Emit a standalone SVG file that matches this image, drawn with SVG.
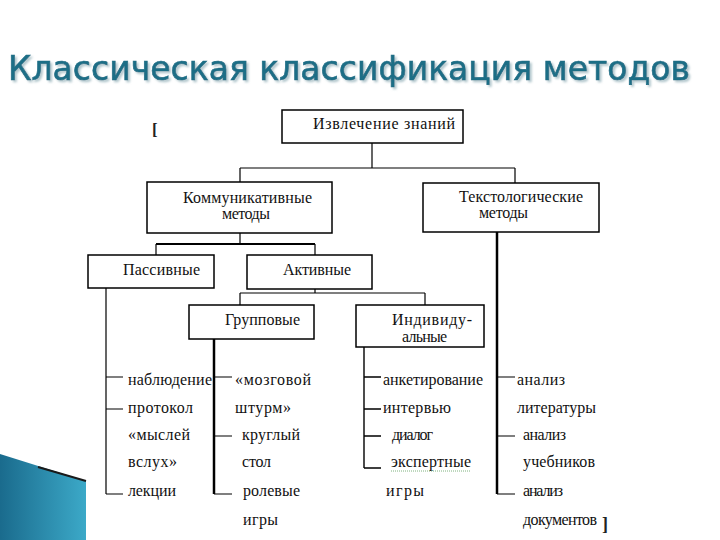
<svg xmlns="http://www.w3.org/2000/svg" width="720" height="540" viewBox="0 0 720 540">
<defs>
<linearGradient id="deco" x1="0" y1="0" x2="1" y2="0">
<stop offset="0" stop-color="#1a6b8d"/>
<stop offset="1" stop-color="#3ca9c8"/>
</linearGradient>
<filter id="shadow" x="-5%" y="-30%" width="110%" height="160%">
<feDropShadow dx="2" dy="2" stdDeviation="0.8" flood-color="#9fb8c0" flood-opacity="0.8"/>
</filter>
<style>
.box{fill:#fff;stroke:#000;stroke-width:1.5}
.ln{stroke:#000;stroke-width:1.2;fill:none}
.t{font-family:"Liberation Serif","Times New Roman",serif;font-size:16px;fill:#111}
.title{font-family:"DejaVu Sans","Liberation Sans",sans-serif;font-size:34px}
.br{font-family:"Liberation Serif",serif;font-weight:bold;fill:#222}
</style>
</defs>
<rect width="720" height="540" fill="#fff"/>

<!-- title -->
<g id="title">
<text class="title" x="8" y="80" textLength="682" lengthAdjust="spacingAndGlyphs" fill="#1f6e86" stroke="#1f6e86" stroke-width="0.7" filter="url(#shadow)">Классическая классификация методов</text>
</g>

<!-- decoration -->
<g id="deco">
<polygon points="0,454 86,481 86,540 0,540" fill="url(#deco)"/>
<line x1="38" y1="467" x2="86" y2="481" stroke="#1a1a1a" stroke-width="2"/>
</g>

<!-- brackets -->
<text class="br" x="152" y="135" font-size="17">[</text>
<text class="br" x="602" y="530" font-size="18">]</text>

<!-- connectors -->
<g id="connectors">
<path class="ln" d="M372,143 V168 M240,168 H515 M240,168 V182 M515,168 V183"/>
<path class="ln" d="M240,233 V244 M156,255 V244 M315,244 V255"/>
<path class="ln" d="M156,244 H315" style="stroke-width:2"/>
<path class="ln" d="M315,289 V293 M240,293 H425 M240,293 V305 M425,293 V305"/>
<!-- passive list -->
<path class="ln" d="M106,288 V494 M106,377 H123 M106,409 H123 M106,494 H123"/>
<!-- group list -->
<path class="ln" d="M214,339 V494" style="stroke-width:2.5"/>
<path class="ln" d="M214,377 H232 M214,436 H232 M214,494 H232"/>
<!-- individual list -->
<path class="ln" d="M364,347 V468 M364,377 H381 M364,409 H381 M364,436 H381 M364,468 H381" style="stroke-width:1.4"/>
<!-- textological list -->
<path class="ln" d="M497,232 V494" style="stroke-width:2.5"/>
<path class="ln" d="M497,377 H515 M497,436 H515 M497,494 H515"/>
</g>

<g id="n-top">
<rect class="box" x="282" y="110" width="181" height="33"/>
<text class="t" x="313" y="129" textLength="142" lengthAdjust="spacing">Извлечение знаний</text>
</g>
<g id="n-comm">
<rect class="box" x="147" y="182" width="185" height="51"/>
<text class="t" x="183" y="203" textLength="129" lengthAdjust="spacing">Коммуникативные</text>
<text class="t" x="222" y="219" textLength="48" lengthAdjust="spacing">методы</text>
</g>
<g id="n-text">
<rect class="box" x="423" y="183" width="176" height="49"/>
<text class="t" x="459" y="202" textLength="124" lengthAdjust="spacing">Текстологические</text>
<text class="t" x="479" y="218" textLength="49" lengthAdjust="spacing">методы</text>
</g>
<g id="n-pass">
<rect class="box" x="88" y="255" width="126" height="33"/>
<text class="t" x="123" y="275" textLength="77" lengthAdjust="spacing">Пассивные</text>
</g>
<g id="n-act">
<rect class="box" x="247" y="255" width="125" height="34"/>
<text class="t" x="283" y="275" textLength="68" lengthAdjust="spacing">Активные</text>
</g>
<g id="n-group">
<rect class="box" x="189" y="305" width="125" height="34"/>
<text class="t" x="225" y="325" textLength="75" lengthAdjust="spacing">Групповые</text>
</g>
<g id="n-ind">
<rect class="box" x="356" y="305" width="128" height="42"/>
<text class="t" x="392" y="325" textLength="80" lengthAdjust="spacing">Индивиду-</text>
<text class="t" x="402" y="342" textLength="45" lengthAdjust="spacing">альные</text>
</g>

<g id="list-pass">
<text class="t" x="128" y="385" textLength="84" lengthAdjust="spacing">наблюдение</text>
<text class="t" x="128" y="413" textLength="65" lengthAdjust="spacing">протокол</text>
<text class="t" x="128" y="440" textLength="62" lengthAdjust="spacing">«мыслей</text>
<text class="t" x="128" y="467" textLength="49" lengthAdjust="spacing">вслух»</text>
<text class="t" x="128" y="496" textLength="48" lengthAdjust="spacing">лекции</text>
</g>
<g id="list-group">
<text class="t" x="235" y="385" textLength="76" lengthAdjust="spacing">«мозговой</text>
<text class="t" x="235" y="413" textLength="56" lengthAdjust="spacing">штурм»</text>
<text class="t" x="242" y="440" textLength="58" lengthAdjust="spacing">круглый</text>
<text class="t" x="242" y="467" textLength="29" lengthAdjust="spacing">стол</text>
<text class="t" x="243" y="496" textLength="57" lengthAdjust="spacing">ролевые</text>
<text class="t" x="243" y="525" textLength="35" lengthAdjust="spacing">игры</text>
</g>
<g id="list-ind">
<text class="t" x="383" y="385" textLength="100" lengthAdjust="spacing">анкетирование</text>
<text class="t" x="383" y="413" textLength="68" lengthAdjust="spacing">интервью</text>
<text class="t" x="392" y="440" textLength="41" lengthAdjust="spacing">диалог</text>
<text class="t" x="391" y="467" textLength="80" lengthAdjust="spacing">экспертные</text>
<line x1="391" y1="471" x2="471" y2="471" stroke="#7fb27f" stroke-width="1" stroke-dasharray="1,1"/>
<text class="t" x="386" y="496" textLength="38" lengthAdjust="spacing">игры</text>
</g>
<g id="list-text">
<text class="t" x="517" y="385" textLength="48" lengthAdjust="spacing">анализ</text>
<text class="t" x="517" y="413" textLength="79" lengthAdjust="spacing">литературы</text>
<text class="t" x="523" y="440" textLength="43" lengthAdjust="spacing">анализ</text>
<text class="t" x="523" y="467" textLength="72" lengthAdjust="spacing">учебников</text>
<text class="t" x="523" y="496" textLength="40" lengthAdjust="spacing">анализ</text>
<text class="t" x="523" y="525" textLength="74" lengthAdjust="spacing">документов</text>
</g>
</svg>
